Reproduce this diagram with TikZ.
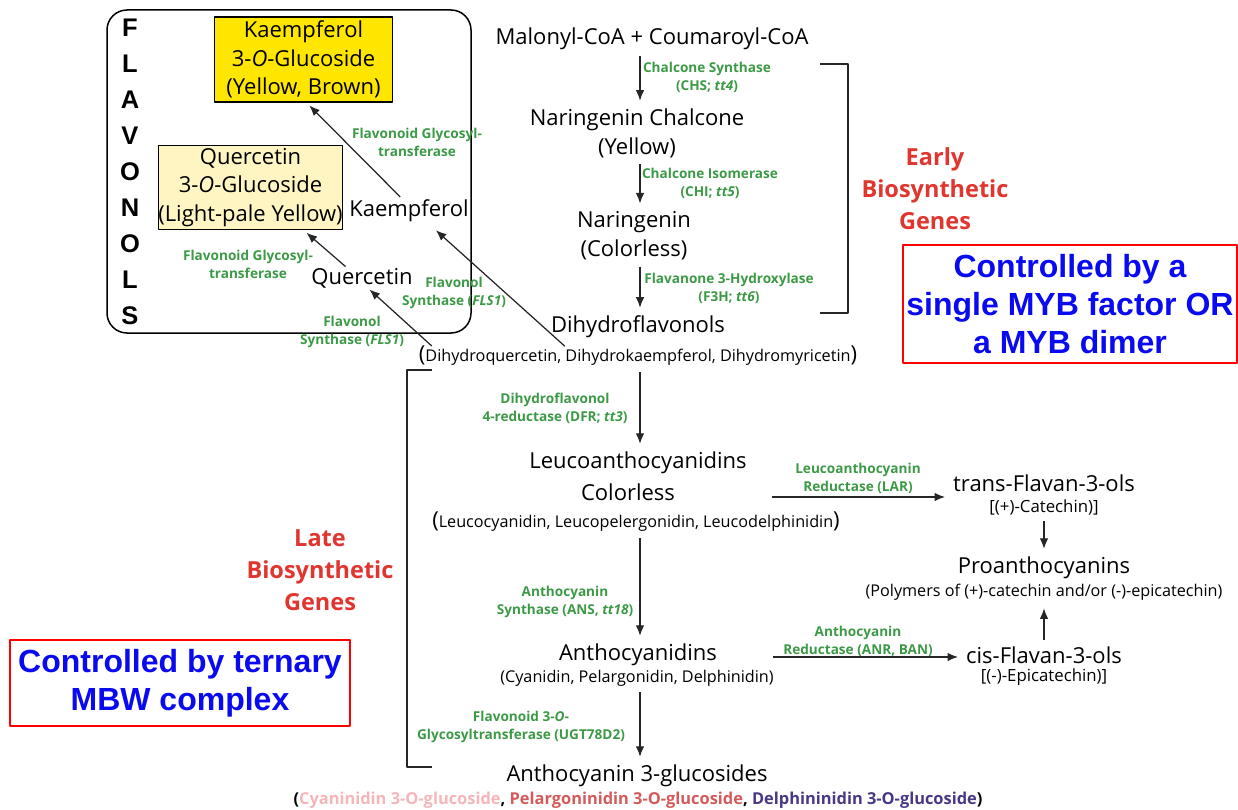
\documentclass[tikz,border=0pt]{standalone}
\usepackage{fontspec}
\setmainfont{Open Sans}
\newfontfamily\arialfont{Liberation Sans}
\usetikzlibrary{arrows.meta}
\definecolor{enzymegreen}{HTML}{3C9A46}
\definecolor{genesred}{HTML}{E0362F}
\definecolor{controlblue}{HTML}{0A0AF0}
\definecolor{controlred}{HTML}{FF0000}
\definecolor{kaempyellow}{HTML}{FFE600}
\definecolor{quercyellow}{HTML}{FFF5C2}
\definecolor{cyanpink}{HTML}{F5B5BA}
\definecolor{pelargred}{HTML}{D45A5C}
\definecolor{delphpurple}{HTML}{4A3886}

\begin{document}
\begin{tikzpicture}[
  x=1pt,y=-1pt,
  line join=round,
  compound/.style={font=\fontsize{22}{29}\selectfont,align=center,inner sep=0pt},
  detail/.style={font=\fontsize{16.2}{18}\selectfont,inner sep=0pt},
  minor/.style={font=\fontsize{16.8}{18}\selectfont,inner sep=0pt},
  enzyme/.style={font=\bfseries\fontsize{13.6}{18}\selectfont,text=enzymegreen,align=center,inner sep=0pt},
  genes/.style={font=\bfseries\fontsize{23.5}{32}\selectfont,text=genesred,align=center,inner sep=0pt},
  control/.style={draw=controlred,line width=1.6pt,inner sep=0pt,align=center,
    font=\arialfont\bfseries\fontsize{32}{38}\selectfont,text=controlblue},
  glucoside/.style={draw=black,line width=1.3pt,inner sep=0pt,align=center,
    minimum width=178pt,minimum height=85pt,font=\fontsize{22}{28.5}\selectfont},
  flavletter/.style={font=\arialfont\bfseries\fontsize{25.5}{25}\selectfont,inner sep=0pt},
  pathway/.style={draw=black!85,line width=1.25pt,shorten <=6pt,shorten >=8pt,
    -{Latex[length=10.5pt,width=8.5pt]}},
  diag/.style={draw=black!85,line width=1.25pt,-{Latex[length=10.5pt,width=8.5pt]}},
  bracket/.style={draw=black!85,line width=2.4pt}
]
  \useasboundingbox (0,0) rectangle (1238,810);

  % Flavonol branch, boxed on the left
  \draw[line width=1.5pt,rounded corners=20pt] (107,10) rectangle (471,333);
  \foreach \letter [count=\i] in {F,L,A,V,O,N,O,L,S} {
    \node[flavletter] (fl\i) at (130,{28+36*(\i-1)}) {\letter};
  }
  \node[glucoside,fill=kaempyellow] (kglu) at (303.5,59.5)
    {Kaempferol\\3-\textit{O}-Glucoside\\(Yellow, Brown)};
  \node[glucoside,fill=quercyellow,minimum width=183pt,minimum height=84pt] (qglu) at (250.5,187.5)
    {Quercetin\\3-\textit{O}-Glucoside\\(Light-pale Yellow)};
  \node[compound] (kaempferol) at (409,211) {Kaempferol};
  \node[compound] (quercetin) at (362,278) {Quercetin};

  % Main pathway column
  \coordinate (axis) at (640,0);
  \coordinate (sideaxis) at (1044,0);
  \node[compound] (malonyl) at (652,39) {Malonyl-CoA + Coumaroyl-CoA};
  \node[compound] (chalcone) at (637,133.5) {Naringenin Chalcone\\(Yellow)};
  \node[compound] (naringenin) at (634,236) {Naringenin\\(Colorless)};
  \node[compound] (dhf) at (638,327) {Dihydroflavonols};
  \node[detail] (dhfsub) at (638,356)
    {{\fontsize{22}{22}\selectfont(}Dihydroquercetin, Dihydrokaempferol, Dihydromyricetin{\fontsize{22}{22}\selectfont)}};
  \node[compound] (leuco) at (638,463) {Leucoanthocyanidins};
  \node[compound] (leucocol) at (628,492) {Colorless};
  \node[detail] (leucosub) at (636,522)
    {{\fontsize{22}{22}\selectfont(}Leucocyanidin, Leucopelergonidin, Leucodelphinidin{\fontsize{22}{22}\selectfont)}};
  \node[compound] (anthocyanidins) at (638,655) {Anthocyanidins};
  \node[detail] (anthosub) at (637,678) {(Cyanidin, Pelargonidin, Delphinidin)};
  \node[compound] (glucosides) at (637,776) {Anthocyanin 3-glucosides};
  \node[detail,font=\bfseries\fontsize{16.4}{18}\selectfont] (glucosub) at (638,800)
    {(\textcolor{cyanpink}{Cyaninidin 3-O-glucoside}, \textcolor{pelargred}{Pelargoninidin 3-O-glucoside}, \textcolor{delphpurple}{Delphininidin 3-O-glucoside})};

  % Proanthocyanin side branch
  \node[compound] (trans) at (1044,483) {trans-Flavan-3-ols};
  \node[minor] (transsub) at (1044,507) {[(+)-Catechin)]};
  \node[compound] (proantho) at (1044,568) {Proanthocyanins};
  \node[detail] (proanthosub) at (1044,592) {(Polymers of (+)-catechin and/or (-)-epicatechin)};
  \node[compound] (cis) at (1044,655) {cis-Flavan-3-ols};
  \node[minor] (cissub) at (1044,677) {[(-)-Epicatechin)]};

  % Enzymes
  \node[enzyme] (chs) at (707,77) {Chalcone Synthase\\(CHS; \textit{tt4})};
  \node[enzyme] (chi) at (710,183) {Chalcone Isomerase\\(CHI; \textit{tt5})};
  \node[enzyme] (f3h) at (729,288) {Flavanone 3-Hydroxylase\\(F3H; \textit{tt6})};
  \node[enzyme] (dfr) at (555,408) {Dihydroflavonol\\4-reductase (DFR; \textit{tt3})};
  \node[enzyme] (lar) at (858,478) {Leucoanthocyanin\\Reductase (LAR)};
  \node[enzyme] (ans) at (565,602) {Anthocyanin\\Synthase (ANS, \textit{tt18})};
  \node[enzyme] (anr) at (858,641) {Anthocyanin\\Reductase (ANR, BAN)};
  \node[enzyme] (ugt) at (521,727) {Flavonoid 3-\textit{O}-\\Glycosyltransferase (UGT78D2)};
  \node[enzyme] (fgtk) at (417,142.5) {Flavonoid Glycosyl-\\transferase};
  \node[enzyme] (fgtq) at (248,264) {Flavonoid Glycosyl-\\transferase};
  \node[enzyme] (flsk) at (454,292.5) {Flavonol\\Synthase (\textit{FLS1})};
  \node[enzyme] (flsq) at (352,332) {Flavonol\\Synthase (\textit{FLS1})};

  % Gene groups and their regulators
  \node[genes] (early) at (935,189) {Early\\Biosynthetic\\Genes};
  \node[genes] (late) at (320,570) {Late\\Biosynthetic\\Genes};
  \node[control,minimum width=334pt,minimum height=118pt] (mybbox) at (1070,304)
    {Controlled by a\\single MYB factor OR\\a MYB dimer};
  \node[control,minimum width=340pt,minimum height=86pt] (mbwbox) at (180,683)
    {Controlled by ternary\\MBW complex};
  \draw[bracket] (820,64) -| (848,313) -- (820,313);
  \draw[bracket] (432,370) -| (407,767) -- (432,767);

  % Reaction steps
  \draw[pathway] (malonyl.south -| axis) -- (chalcone.north -| axis);
  \draw[pathway] (chalcone.south -| axis) -- (naringenin.north -| axis);
  \draw[pathway] (naringenin.south -| axis) -- (dhf.north -| axis);
  \draw[pathway] (dhfsub.south -| axis) -- (leuco.north -| axis);
  \draw[pathway] (leucosub.south -| axis) -- (anthocyanidins.north -| axis);
  \draw[pathway] (anthosub.south -| axis) -- (glucosides.north -| axis);
  \draw[pathway] (transsub.south -| sideaxis) -- (proantho.north -| sideaxis);
  \draw[pathway] (cis.north -| sideaxis) -- (proanthosub.south -| sideaxis);
  \draw[pathway,shorten <=0pt] ([xshift=97pt,yshift=-5pt]leucocol.east) -- ([yshift=-5pt]leucocol.east -| trans.west);
  \draw[pathway,shorten <=0pt] ([xshift=56pt,yshift=-2pt]anthocyanidins.east) -- ([yshift=-2pt]anthocyanidins.east -| cis.west);

  % Flavonol side reactions
  \draw[diag,shorten >=12pt] ([xshift=14pt,yshift=-8pt]dhf.south west) -- ([xshift=18pt]kaempferol.south);
  \draw[diag,shorten >=2pt] ([xshift=13pt]dhfsub.north west) -- ([xshift=6pt]quercetin.south);
  \draw[diag,shorten <=4pt,shorten >=4pt] ([xshift=-6pt]kaempferol.north) -- ([xshift=3pt]kglu.south);
  \draw[diag,shorten <=2pt,shorten >=4pt] ([xshift=-15pt]quercetin.north) -- ([xshift=53pt]qglu.south);
\end{tikzpicture}
\end{document}
